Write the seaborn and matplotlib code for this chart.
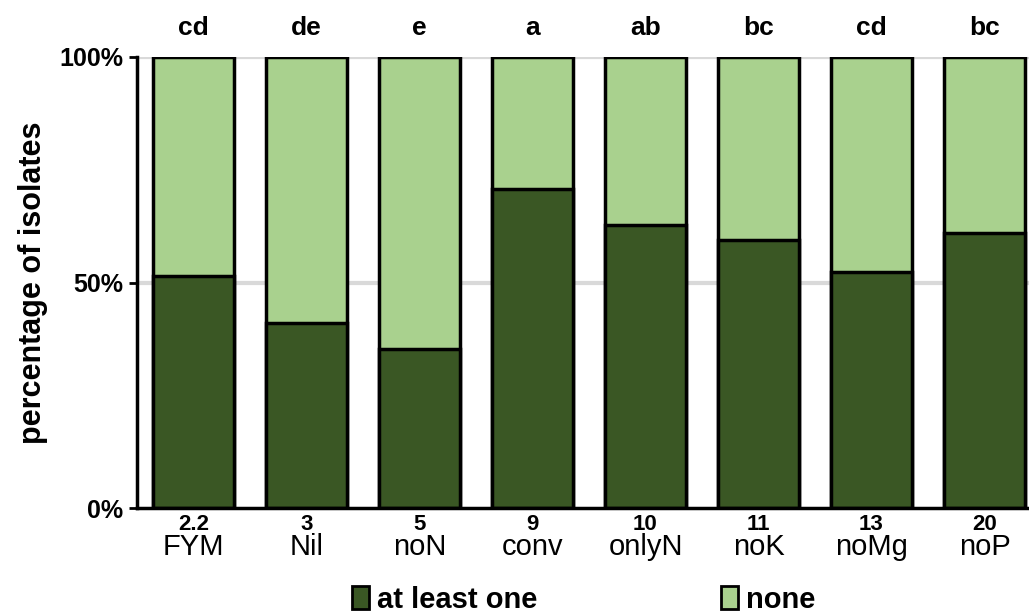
import matplotlib
matplotlib.use("Agg")
import matplotlib.pyplot as plt
from matplotlib.patches import Patch
import seaborn as sns
import pandas as pd

categories = ["FYM", "Nil", "noN", "conv", "onlyN", "noK", "noMg", "noP"]
numbers = ["2.2", "3", "5", "9", "10", "11", "13", "20"]
letters = ["cd", "de", "e", "a", "ab", "bc", "cd", "bc"]
at_least_one = [51.5, 41.0, 35.3, 70.7, 62.8, 59.4, 52.3, 61.0]
none = [100 - v for v in at_least_one]
y_ticks = [0, 50, 100]
y_ticklabels = ["0%", "50%", "100%"]

dark = "#3A5724"
light = "#A9D18E"

sns.set_theme(style="white")
plt.rcParams["font.family"] = ["Liberation Sans", "DejaVu Sans"]
plt.rcParams["text.color"] = "black"
plt.rcParams["axes.labelcolor"] = "black"
plt.rcParams["xtick.color"] = "black"
plt.rcParams["ytick.color"] = "black"

df = pd.DataFrame({"cat": categories, "one": at_least_one,
                   "total": [a + b for a, b in zip(at_least_one, none)]})

fig = plt.figure(figsize=(10.29, 6.13), dpi=100)
ax = fig.add_axes([137 / 1029, 105 / 613, 904 / 1029, 451 / 613])

for y in [50, 100]:
    ax.axhline(y, color="#d9d9d9", lw=3, zorder=0)

sns.barplot(data=df, x="cat", y="total", color=light, width=0.72,
            edgecolor="black", linewidth=2.5, saturation=1, ax=ax, zorder=2)
sns.barplot(data=df, x="cat", y="one", color=dark, width=0.72,
            edgecolor="black", linewidth=2.5, saturation=1, ax=ax, zorder=3)

ax.set_xlim(-0.5, 7.5)
ax.set_ylim(0, 100)
ax.set_yticks(y_ticks)
ax.set_yticklabels(y_ticklabels, fontsize=18, fontweight="bold")
ax.tick_params(axis="y", direction="out", length=6, width=2, color="black", left=True, pad=4)
ax.set_xticks(range(len(categories)))
ax.set_xticklabels(categories, fontsize=21)
ax.tick_params(axis="x", length=0, pad=18)
ax.set_xlabel("")
ax.set_ylabel("percentage of isolates", fontsize=22, fontweight="bold", labelpad=8)

for s in ["top", "right"]:
    ax.spines[s].set_visible(False)
for s in ["left", "bottom"]:
    ax.spines[s].set_color("black")
    ax.spines[s].set_linewidth(2.5)
ax.spines["bottom"].set_zorder(5)

for i, (n, l) in enumerate(zip(numbers, letters)):
    ax.annotate(n, (i, 0), xytext=(0, -4), textcoords="offset points",
                ha="center", va="top", fontsize=16, fontweight="bold")
    ax.annotate(l, (i, 100), xytext=(0, 21), textcoords="offset points",
                ha="center", va="center", fontsize=19, fontweight="bold")

handles = [Patch(facecolor=dark, edgecolor="black", linewidth=2),
           Patch(facecolor=light, edgecolor="black", linewidth=2)]
fig.legend(handles, ["at least one", "none"], loc="center", bbox_to_anchor=(0.567, 0.022),
           ncol=2, frameon=False, prop={"size": 21, "weight": "bold"},
           handlelength=0.6, handleheight=0.8, handletextpad=0.25, columnspacing=6.3,
           borderpad=0, borderaxespad=0)

fig.savefig("out.png", dpi=100)
